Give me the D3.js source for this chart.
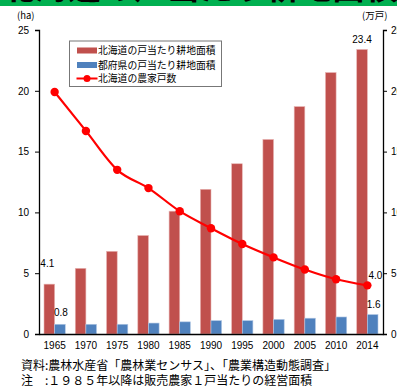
<!DOCTYPE html>
<html>
<head>
<meta charset="utf-8">
<script src="https://cdn.jsdelivr.net/npm/d3@7"></script>
<style>
  body { margin: 0; background: #fff; }
  svg { display: block; font-family: "Liberation Sans", Arial, sans-serif; }
  .jp { font-family: "Noto Sans CJK JP", sans-serif; }
</style>
</head>
<body>
<div class="container"></div>
<script>
const years = ['1965', '1970', '1975', '1980', '1985', '1990', '1995', '2000', '2005', '2010', '2014'];
const hokkaidoArea = [4.1, 5.4, 6.8, 8.1, 10.1, 11.9, 14.0, 16.0, 18.7, 21.5, 23.4];
const prefArea = [0.8, 0.8, 0.8, 0.9, 1.0, 1.1, 1.1, 1.2, 1.3, 1.4, 1.6];
const farmHouseholds = [19.9, 16.7, 13.5, 12.0, 10.1, 8.7, 7.4, 6.3, 5.3, 4.5, 4.0];
const yTicks = [0, 5, 10, 15, 20, 25];
const seriesNames = ['北海道の戸当たり耕地面積', '都府県の戸当たり耕地面積', '北海道の農家戸数'];

const w = 397;
const h = 388;

const margin = {
    top: 30,
    right: 14,
    bottom: 54,
    left: 39
}

const red = '#c0504d';
const blue = '#4f81bd';

const svg = d3.select('.container')
    .append('svg')
    .attr('width', w)
    .attr('height', h);

// cut-off title banner at top
svg.append('rect')
    .attr('x', 0).attr('y', 0)
    .attr('width', w).attr('height', 6)
    .attr('fill', '#00b050');
svg.append('clipPath').attr('id', 'bannerClip')
    .append('rect').attr('width', w).attr('height', 6);
svg.append('text')
    .attr('class', 'jp')
    .attr('clip-path', 'url(#bannerClip)')
    .attr('x', 2)
    .attr('y', -1)
    .style('font-size', '33px')
    .style('font-weight', 'bold')
    .text('北海道の戸当たり耕地面積の推移');

const x = d3.scaleBand()
    .domain(years)
    .range([margin.left, w - margin.right])
    .paddingInner(0.32)
    .paddingOuter(0.16);

const y = d3.scaleLinear()
    .domain([0, 25])
    .range([h - margin.bottom, margin.top]);

const bw = x.bandwidth() / 2;

// bars
svg.append('g')
    .selectAll('rect')
    .data(hokkaidoArea)
    .join('rect')
    .attr('x', (d, i) => x(years[i]))
    .attr('y', d => y(d))
    .attr('width', bw)
    .attr('height', d => y(0) - y(d))
    .attr('fill', red)
    .attr('stroke', '#e8b4b3')
    .attr('stroke-width', 0.6);

svg.append('g')
    .selectAll('rect')
    .data(prefArea)
    .join('rect')
    .attr('x', (d, i) => x(years[i]) + bw)
    .attr('y', d => y(d))
    .attr('width', bw)
    .attr('height', d => y(0) - y(d))
    .attr('fill', blue)
    .attr('stroke', '#b3c8e4')
    .attr('stroke-width', 0.6);

// household line
const cx = (d, i) => x(years[i]) + x.bandwidth() / 2;
svg.append('path')
    .datum(farmHouseholds)
    .attr('fill', 'none')
    .attr('stroke', '#ff0000')
    .attr('stroke-width', 2.2)
    .attr('d', d3.line().x(cx).y(d => y(d)).curve(d3.curveMonotoneX));

svg.append('g')
    .selectAll('circle')
    .data(farmHouseholds)
    .join('circle')
    .attr('cx', cx)
    .attr('cy', d => y(d))
    .attr('r', 4.2)
    .attr('fill', '#ff0000');

// axes
const yAxisL = svg.append('g')
    .attr('transform', `translate(${margin.left},0)`)
    .call(d3.axisLeft(y).tickValues(yTicks).tickSize(4).tickPadding(6));
const yAxisR = svg.append('g')
    .attr('transform', `translate(${w - margin.right},0)`)
    .call(d3.axisRight(y).tickValues(yTicks).tickSize(4).tickPadding(4));
[yAxisL, yAxisR].forEach(g => {
    g.select('.domain').attr('stroke', '#000').attr('stroke-width', 1.3);
    g.selectAll('.tick line').attr('stroke', '#000');
    g.selectAll('.tick text').style('font-size', '10px').attr('fill', '#000');
});

const xAxis = svg.append('g')
    .attr('transform', `translate(0,${y(0)})`)
    .call(d3.axisBottom(x).tickSize(0).tickPadding(8));
xAxis.select('.domain').attr('stroke', '#000').attr('stroke-width', 1.6);
xAxis.selectAll('.tick text').style('font-size', '10px').attr('fill', '#000');

// unit labels
svg.append('text')
    .attr('class', 'jp')
    .attr('x', 17).attr('y', 19)
    .style('font-size', '9.5px')
    .text('(ha)');
svg.append('text')
    .attr('class', 'jp')
    .attr('x', 362).attr('y', 19)
    .style('font-size', '9.5px')
    .text('(万戸)');

// data labels
const last = years.length - 1;
const labels = svg.append('g').style('font-size', '10px').attr('text-anchor', 'middle');
labels.append('text')
    .attr('x', x(years[0]) + bw / 2 - 2)
    .attr('y', y(hokkaidoArea[0]) - 17)
    .text(hokkaidoArea[0].toFixed(1));
labels.append('text')
    .attr('x', x(years[0]) + bw * 1.5 + 1)
    .attr('y', y(prefArea[0]) - 8)
    .text(prefArea[0].toFixed(1));
labels.append('text')
    .attr('x', x(years[last]) + bw / 2)
    .attr('y', y(hokkaidoArea[last]) - 6)
    .text(hokkaidoArea[last].toFixed(1));
labels.append('text')
    .attr('x', x(years[last]) + bw * 1.5 + 1)
    .attr('y', y(prefArea[last]) - 7)
    .text(prefArea[last].toFixed(1));
labels.append('text')
    .attr('x', cx(farmHouseholds[last], last) + 8)
    .attr('y', y(farmHouseholds[last]) - 6)
    .text(farmHouseholds[last].toFixed(1));

// legend
const legend = svg.append('g').attr('transform', 'translate(69.5,41)');
legend.append('rect')
    .attr('width', 152)
    .attr('height', 45.5)
    .attr('fill', '#fff')
    .attr('stroke', '#777')
    .attr('stroke-width', 1);
const rowY = [9.5, 24, 37.5];
[red, blue].forEach((c, i) => {
    legend.append('rect')
        .attr('x', 7.5).attr('y', rowY[i] - 3)
        .attr('width', 20).attr('height', 6)
        .attr('fill', c);
});
legend.append('line')
    .attr('x1', 7).attr('x2', 28)
    .attr('y1', rowY[2]).attr('y2', rowY[2])
    .attr('stroke', '#ff0000').attr('stroke-width', 2);
legend.append('circle')
    .attr('cx', 17.5).attr('cy', rowY[2]).attr('r', 3.5)
    .attr('fill', '#ff0000');
legend.selectAll('text.item')
    .data(seriesNames)
    .join('text')
    .attr('class', 'item jp')
    .attr('x', 28.5)
    .attr('y', (d, i) => rowY[i] + 3.5)
    .style('font-size', '9.8px')
    .text(d => d);

// source notes
svg.append('text')
    .attr('class', 'jp')
    .attr('x', 21).attr('y', 370)
    .style('font-size', '12px')
    .text('資料:農林水産省「農林業センサス」、「農業構造動態調査」');
svg.append('text')
    .attr('class', 'jp')
    .attr('x', 21).attr('y', 385)
    .style('font-size', '12px')
    .attr('xml:space', 'preserve')
    .text('注　:１９８５年以降は販売農家１戸当たりの経営面積');
</script>
</body>
</html>
